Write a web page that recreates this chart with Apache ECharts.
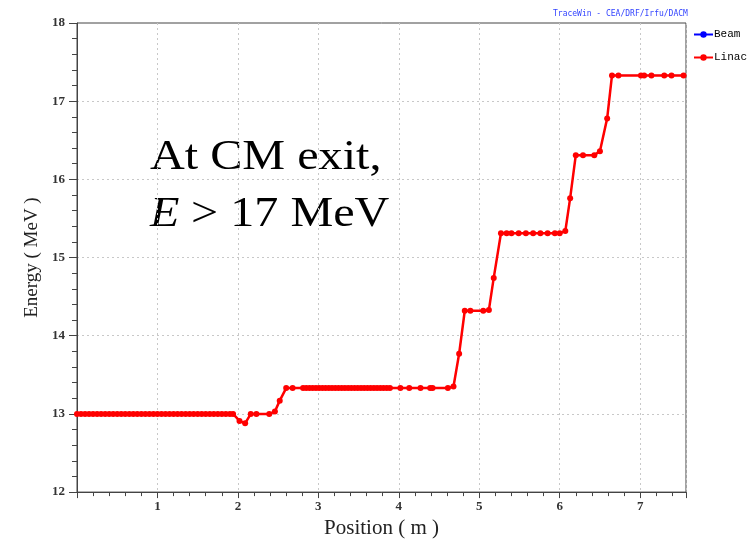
<!DOCTYPE html>
<html>
<head>
<meta charset="utf-8">
<script src="https://cdn.jsdelivr.net/npm/echarts@6/dist/echarts.min.js"></script>
<style>
  html, body { margin: 0; padding: 0; background: #fff; }
  #main { width: 753px; height: 544px; }
</style>
</head>
<body>
<div id="main"></div>
<script>
// position along the linac (m)
var positions = [
  0.00, 0.05, 0.10, 0.15, 0.20, 0.25, 0.30, 0.35, 0.40, 0.45,
  0.50, 0.55, 0.60, 0.65, 0.70, 0.75, 0.80, 0.85, 0.90, 0.95,
  1.00, 1.05, 1.10, 1.15, 1.20, 1.25, 1.30, 1.35, 1.40, 1.45,
  1.50, 1.55, 1.60, 1.65, 1.70, 1.75, 1.80, 1.85, 1.90, 1.94,
  2.02, 2.09, 2.16, 2.23, 2.39, 2.46, 2.52, 2.60, 2.68,
  2.81, 2.85, 2.89, 2.93, 2.97, 3.01, 3.05, 3.09, 3.13, 3.17,
  3.21, 3.25, 3.29, 3.33, 3.37, 3.41, 3.45, 3.49, 3.53, 3.57,
  3.61, 3.65, 3.69, 3.73, 3.77, 3.81, 3.85, 3.89,
  4.02, 4.13, 4.27, 4.39, 4.42, 4.61, 4.68, 4.75, 4.82, 4.89,
  5.05, 5.12, 5.18, 5.27, 5.34, 5.40, 5.49, 5.58, 5.67, 5.76,
  5.85, 5.94, 6.00, 6.07, 6.13, 6.20, 6.29, 6.43, 6.50, 6.59,
  6.65, 6.73, 7.01, 7.05, 7.14, 7.30, 7.39, 7.54
];
// beam energy (MeV)
var energies = [
  13.00, 13.00, 13.00, 13.00, 13.00, 13.00, 13.00, 13.00, 13.00, 13.00,
  13.00, 13.00, 13.00, 13.00, 13.00, 13.00, 13.00, 13.00, 13.00, 13.00,
  13.00, 13.00, 13.00, 13.00, 13.00, 13.00, 13.00, 13.00, 13.00, 13.00,
  13.00, 13.00, 13.00, 13.00, 13.00, 13.00, 13.00, 13.00, 13.00, 13.00,
  12.91, 12.88, 13.00, 13.00, 13.00, 13.03, 13.17, 13.33, 13.33,
  13.33, 13.33, 13.33, 13.33, 13.33, 13.33, 13.33, 13.33, 13.33, 13.33,
  13.33, 13.33, 13.33, 13.33, 13.33, 13.33, 13.33, 13.33, 13.33, 13.33,
  13.33, 13.33, 13.33, 13.33, 13.33, 13.33, 13.33, 13.33,
  13.33, 13.33, 13.33, 13.33, 13.33, 13.33, 13.35, 13.77, 14.32, 14.32,
  14.32, 14.33, 14.74, 15.31, 15.31, 15.31, 15.31, 15.31, 15.31, 15.31,
  15.31, 15.31, 15.31, 15.34, 15.76, 16.31, 16.31, 16.31, 16.36, 16.78,
  17.33, 17.33, 17.33, 17.33, 17.33, 17.33, 17.33, 17.33
];
var seriesNames = ['Beam', 'Linac'];
var seriesColors = ['#0000ff', '#ff0000'];

var points = positions.map(function (p, i) { return [p, energies[i]]; });

var myChart = echarts.init(document.getElementById('main'));

var serif = 'Liberation Serif';
var gridLine = { show: true, lineStyle: { color: '#c8c8c8', type: [2, 3], width: 1 } };

option = {
    animation: false,
    backgroundColor: '#fff',
    title: {
        text: 'TraceWin - CEA/DRF/Irfu/DACM',
        left: 548,
        top: 5,
        textStyle: { fontFamily: 'DejaVu Sans Mono', fontSize: 8, fontWeight: 'normal', color: '#3344ff' }
    },
    legend: {
        data: seriesNames,
        orient: 'vertical',
        left: 688,
        top: 24,
        itemWidth: 19,
        itemHeight: 8,
        itemGap: 12,
        textStyle: { fontFamily: 'Liberation Mono', fontSize: 11, color: '#000', padding: [0, 0, 0, -4] }
    },
    grid: {
        left: 77, right: 67, top: 23, bottom: 50,
        show: true, borderColor: '#444', borderWidth: 1
    },
    xAxis: {
        type: 'value',
        min: 0,
        max: 7.57,
        interval: 1,
        name: 'Position ( m )',
        nameLocation: 'middle',
        nameGap: 22,
        nameTextStyle: { fontFamily: serif, fontSize: 21, color: '#222' },
        axisLine: { show: true, lineStyle: { color: '#444' } },
        axisTick: { show: true, length: 6, lineStyle: { color: '#444' } },
        minorTick: { show: true, splitNumber: 5, length: 4, lineStyle: { color: '#444' } },
        axisLabel: {
            showMinLabel: false, showMaxLabel: false, margin: 8,
            fontFamily: serif, fontSize: 13, fontWeight: 'bold', color: '#333'
        },
        splitLine: gridLine
    },
    yAxis: {
        type: 'value',
        min: 12,
        max: 18,
        interval: 1,
        name: 'Energy ( MeV )',
        nameLocation: 'middle',
        nameGap: 33,
        nameTextStyle: { fontFamily: serif, fontSize: 19, color: '#222', padding: [0, 0, 0, 0] },
        axisLine: { show: true, lineStyle: { color: '#444' } },
        axisTick: { show: true, length: 8, lineStyle: { color: '#444' } },
        minorTick: { show: true, splitNumber: 5, length: 5, lineStyle: { color: '#444' } },
        axisLabel: { margin: 12, fontFamily: serif, fontSize: 13, fontWeight: 'bold', color: '#333' },
        splitLine: { show: true, showMaxLine: false, showMinLine: false, lineStyle: gridLine.lineStyle }
    },
    graphic: [
        {
            type: 'text', left: 150, top: 136, scaleX: 1.12,
            style: { text: 'At CM exit,', font: '43px "Liberation Serif"', fill: '#000' }
        },
        {
            type: 'text', left: 150, top: 193, scaleX: 1.12,
            style: { text: 'E', font: 'italic 43px "Liberation Serif"', fill: '#000' }
        },
        {
            type: 'text', left: 191, top: 193, scaleX: 1.12,
            style: { text: '> 17 MeV', font: '43px "Liberation Serif"', fill: '#000' }
        }
    ],
    series: seriesNames.map(function (name, k) {
        return {
            name: name,
            type: 'line',
            data: points,
            color: seriesColors[k],
            symbol: 'circle',
            symbolSize: k ? 6 : 3,
            lineStyle: { width: k ? 2.5 : 1 },
            z: 2 + k
        };
    })
};

myChart.setOption(option);
</script>
</body>
</html>
